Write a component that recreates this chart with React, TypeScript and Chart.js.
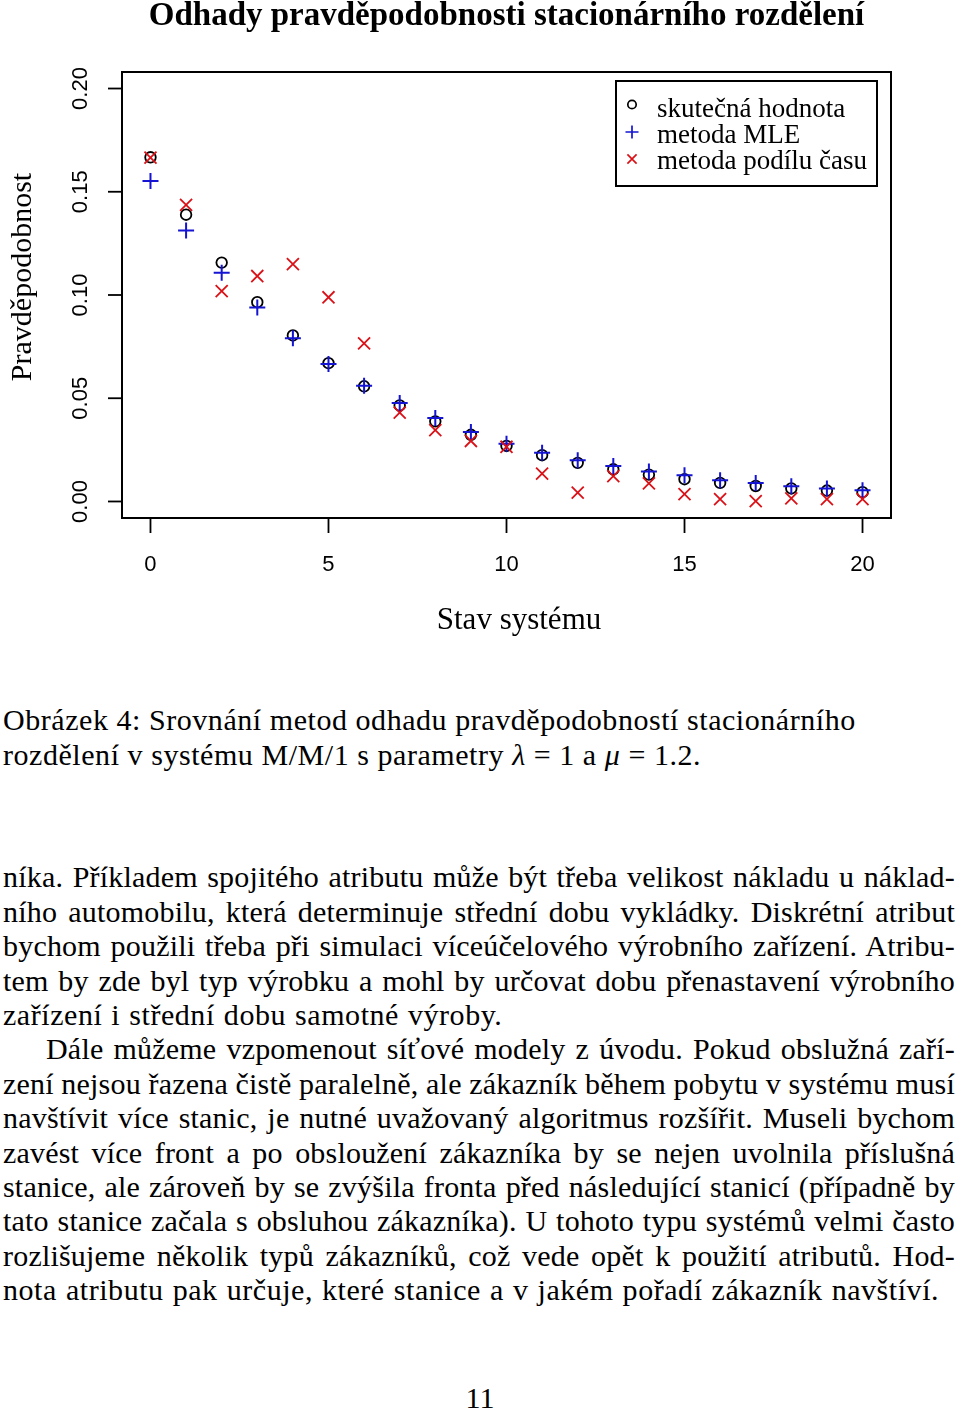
import React, { useEffect, useRef } from 'react';
import { Chart, registerables } from 'chart.js';

Chart.register(...registerables);

// ---- data ----
const states = [0, 1, 2, 3, 4, 5, 6, 7, 8, 9, 10, 11, 12, 13, 14, 15, 16, 17, 18, 19, 20];
const trueValues = [0.1667, 0.1389, 0.1157, 0.0965, 0.0804, 0.0670, 0.0558, 0.0465, 0.0388, 0.0323, 0.0269, 0.0224, 0.0187, 0.0156, 0.0130, 0.0108, 0.0090, 0.0075, 0.0063, 0.0053, 0.0045];
const mleValues = [0.1552, 0.1312, 0.1108, 0.0939, 0.0790, 0.0666, 0.0560, 0.0477, 0.0404, 0.0337, 0.0280, 0.0236, 0.0200, 0.0172, 0.0145, 0.0127, 0.0103, 0.0089, 0.0074, 0.0063, 0.0055];
const timeShareValues = [0.1665, 0.1436, 0.1019, 0.1092, 0.1150, 0.0989, 0.0766, 0.0430, 0.0346, 0.0293, 0.0265, 0.0135, 0.0043, 0.0123, 0.0088, 0.0036, 0.0011, 0.0002, 0.0015, 0.0011, 0.0011];
const xTicks = [0, 5, 10, 15, 20];
const yTicks = [0, 0.05, 0.1, 0.15, 0.2];
const seriesLabels = ['skutečná hodnota', 'metoda MLE', 'metoda podílu času'];

const chartTitle = 'Odhady pravděpodobnosti stacionárního rozdělení';
const xTitle = 'Stav systému';
const yTitle = 'Pravděpodobnost';

const BLUE = '#1414D2';
const RED = '#DA1218';

const captionLine1 = 'Obrázek 4: Srovnání metod odhadu pravděpodobností stacionárního';

const bodyLines: { t: string; j: boolean; indent?: boolean }[] = [
  { t: 'níka. Příkladem spojitého atributu může být třeba velikost nákladu u náklad-', j: true },
  { t: 'ního automobilu, která determinuje střední dobu vykládky. Diskrétní atribut', j: true },
  { t: 'bychom použili třeba při simulaci víceúčelového výrobního zařízení. Atribu-', j: true },
  { t: 'tem by zde byl typ výrobku a mohl by určovat dobu přenastavení výrobního', j: true },
  { t: 'zařízení i střední dobu samotné výroby.', j: false },
  { t: 'Dále můžeme vzpomenout síťové modely z úvodu. Pokud obslužná zaří-', j: true, indent: true },
  { t: 'zení nejsou řazena čistě paralelně, ale zákazník během pobytu v systému musí', j: true },
  { t: 'navštívit více stanic, je nutné uvažovaný algoritmus rozšířit. Museli bychom', j: true },
  { t: 'zavést více front a po obsloužení zákazníka by se nejen uvolnila příslušná', j: true },
  { t: 'stanice, ale zároveň by se zvýšila fronta před následující stanicí (případně by', j: true },
  { t: 'tato stanice začala s obsluhou zákazníka). U tohoto typu systémů velmi často', j: true },
  { t: 'rozlišujeme několik typů zákazníků, což vede opět k použití atributů. Hod-', j: true },
  { t: 'nota atributu pak určuje, které stanice a v jakém pořadí zákazník navštíví.', j: false },
];

function drawSymbol(ctx: CanvasRenderingContext2D, kind: number, x: number, y: number, s: number) {
  ctx.beginPath();
  if (kind === 0) {
    ctx.strokeStyle = '#000';
    ctx.arc(x, y, s, 0, Math.PI * 2);
  } else if (kind === 1) {
    ctx.strokeStyle = BLUE;
    ctx.moveTo(x - s, y); ctx.lineTo(x + s, y);
    ctx.moveTo(x, y - s); ctx.lineTo(x, y + s);
  } else {
    ctx.strokeStyle = RED;
    ctx.moveTo(x - s, y - s); ctx.lineTo(x + s, y + s);
    ctx.moveTo(x - s, y + s); ctx.lineTo(x + s, y - s);
  }
  ctx.stroke();
}

const decorPlugin = {
  id: 'decor',
  afterDraw(chart: any) {
    const { ctx, chartArea: a } = chart;
    const xs = chart.scales.x;
    const ys = chart.scales.y;
    ctx.save();
    ctx.fillStyle = '#000';
    ctx.strokeStyle = '#000';
    // frame
    ctx.lineWidth = 2;
    ctx.strokeRect(a.left, a.top, a.right - a.left, a.bottom - a.top);

    // x ticks
    ctx.lineWidth = 1.8;
    ctx.font = '22px "Liberation Sans", Arial, sans-serif';
    ctx.textAlign = 'center';
    ctx.textBaseline = 'alphabetic';
    xTicks.forEach((v) => {
      const px = xs.getPixelForValue(v);
      ctx.beginPath();
      ctx.moveTo(px, a.bottom + 1);
      ctx.lineTo(px, a.bottom + 15);
      ctx.stroke();
      ctx.fillText(String(v), px, 571);
    });

    // y ticks
    yTicks.forEach((v) => {
      const py = ys.getPixelForValue(v);
      ctx.beginPath();
      ctx.moveTo(a.left - 14, py);
      ctx.lineTo(a.left, py);
      ctx.stroke();
      ctx.save();
      ctx.translate(79, py);
      ctx.rotate(-Math.PI / 2);
      ctx.fillText(v.toFixed(2), 0, 8);
      ctx.restore();
    });

    // title
    ctx.font = 'bold 33px "Liberation Serif", "Times New Roman", serif';
    ctx.fillText(chartTitle, (a.left + a.right) / 2, 25);

    // axis titles
    ctx.font = '31px "Liberation Serif", "Times New Roman", serif';
    ctx.fillText(xTitle, 519, 629);
    ctx.font = '30px "Liberation Serif", "Times New Roman", serif';
    ctx.save();
    ctx.translate(31, 277);
    ctx.rotate(-Math.PI / 2);
    ctx.fillText(yTitle, 0, 0);
    ctx.restore();

    // legend
    ctx.lineWidth = 2;
    ctx.strokeStyle = '#000';
    ctx.strokeRect(616, 81, 261, 105);
    ctx.font = '27px "Liberation Serif", "Times New Roman", serif';
    ctx.textAlign = 'left';
    const rowsSym = [104.5, 132, 159];
    const rowsTxt = [117, 143, 169];
    const sizes = [4.2, 6.5, 4.6];
    seriesLabels.forEach((lab, i) => {
      ctx.lineWidth = 1.7;
      drawSymbol(ctx, i, 632, rowsSym[i], sizes[i]);
      ctx.fillStyle = '#000';
      ctx.fillText(lab, 657, rowsTxt[i]);
    });
    ctx.restore();
  },
};

function ScatterChart() {
  const ref = useRef<HTMLCanvasElement | null>(null);
  useEffect(() => {
    if (!ref.current) return;
    const mk = (vals: number[]) => states.map((s, i) => ({ x: s, y: vals[i] }));
    const chart = new Chart(ref.current, {
      type: 'scatter',
      data: {
        datasets: [
          {
            label: seriesLabels[0],
            data: mk(trueValues),
            pointStyle: 'circle',
            pointRadius: 5.3,
            pointBorderWidth: 1.8,
            pointBorderColor: '#000',
            borderColor: '#000',
            pointBackgroundColor: 'rgba(0,0,0,0)',
            backgroundColor: 'rgba(0,0,0,0)',
            order: 3,
          },
          {
            label: seriesLabels[1],
            data: mk(mleValues),
            pointStyle: 'cross',
            pointRadius: 8,
            pointBorderWidth: 2,
            pointBorderColor: BLUE,
            borderColor: BLUE,
            order: 2,
          },
          {
            label: seriesLabels[2],
            data: mk(timeShareValues),
            pointStyle: 'crossRot',
            pointRadius: 8.5,
            pointBorderWidth: 1.8,
            pointBorderColor: RED,
            borderColor: RED,
            order: 1,
          },
        ],
      },
      options: {
        responsive: false,
        maintainAspectRatio: false,
        animation: false,
        devicePixelRatio: 1,
        layout: { padding: { left: 122, top: 72, right: 69, bottom: 132 } },
        scales: {
          x: { type: 'linear', min: -0.8, max: 20.8, display: false },
          y: { type: 'linear', min: -0.008, max: 0.208, display: false },
        },
        plugins: {
          legend: { display: false },
          tooltip: { enabled: false },
          title: { display: false },
        },
      },
      plugins: [decorPlugin],
    });
    return () => chart.destroy();
  }, []);
  return (
    <canvas
      ref={ref}
      width={960}
      height={650}
      style={{ position: 'absolute', left: 0, top: 0, width: 960, height: 650, display: 'block' }}
    />
  );
}

const FS = 30;
const LH = 35;
const BASE_OFF = 27.6;
const textFont = '"Liberation Serif", "Times New Roman", serif';

function Line({ baseline, children, justify, indent, ls, ws }: any) {
  return (
    <div
      style={{
        position: 'absolute',
        left: 3,
        width: 952,
        top: baseline - BASE_OFF,
        height: LH,
        lineHeight: LH + 'px',
        fontSize: FS,
        letterSpacing: ls,
        wordSpacing: ws,
        fontFamily: textFont,
        color: '#000',
        whiteSpace: 'nowrap',
        textAlign: justify ? 'justify' : 'left',
        textAlignLast: justify ? 'justify' : 'left',
        paddingLeft: indent ? 43 : 0,
        boxSizing: 'border-box',
      } as any}
    >
      {children}
    </div>
  );
}

export default function App() {
  const bodyStart = 887;
  const bodyStep = 34.4;
  return (
    <div style={{ position: 'absolute', left: 0, top: 0, width: 960, height: 1412, background: '#fff', overflow: 'hidden' }}>
      <ScatterChart />
      <Line baseline={730} ls={0.55} ws={0}>{captionLine1}</Line>
      <Line baseline={765} ls={0.55} ws={0}>
        rozdělení v systému M/M/1 s parametry <i>λ</i> = 1 a <i>μ</i> = 1.2.
      </Line>
      {bodyLines.map((l, i) => (
        <Line
          key={i}
          baseline={bodyStart + i * bodyStep}
          justify={l.j}
          indent={l.indent}
          ls={l.j ? 0.2 : 0.55}
          ws={l.j ? -3 : 1}
        >
          {l.t}
        </Line>
      ))}
      <div
        style={{
          position: 'absolute',
          left: 0,
          width: 960,
          top: 1408 - BASE_OFF,
          height: LH,
          lineHeight: LH + 'px',
          fontSize: FS,
          fontFamily: textFont,
          textAlign: 'center',
        }}
      >
        11
      </div>
    </div>
  );
}
